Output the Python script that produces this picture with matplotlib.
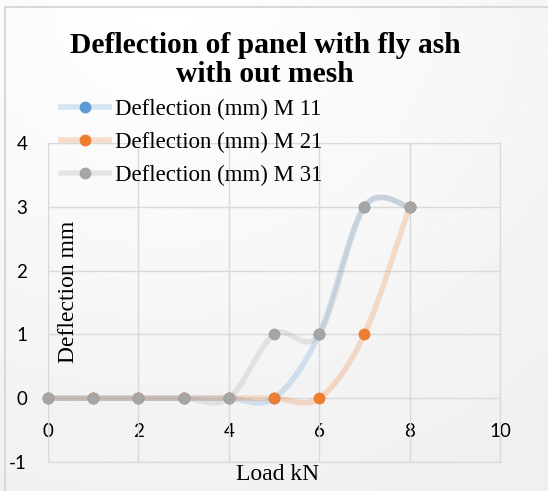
import numpy as np
import matplotlib
matplotlib.use('Agg')
import matplotlib.pyplot as plt
from matplotlib.path import Path
from matplotlib.patches import PathPatch, Rectangle
from matplotlib.lines import Line2D

plt.rcParams['axes.unicode_minus'] = False

# data
load = [0, 1, 2, 3, 4, 5, 6, 7, 8]
m11 = [0, 0, 0, 0, 0, 0, 1, 3, 3]
m21 = [0, 0, 0, 0, 0, 0, 0, 1, 3]
m31 = [0, 0, 0, 0, 0, 1, 1, 3, 3]
names = ['Deflection (mm) M 11', 'Deflection (mm) M 21', 'Deflection (mm) M 31']
colors = ['#5B9BD5', '#ED7D31', '#A5A5A5']
xticks = [0, 2, 4, 6, 8, 10]
yticks = [-1, 0, 1, 2, 3, 4]

W, H = 548, 491
fig = plt.figure(figsize=(W / 100, H / 100), dpi=100)

# background gradient + border
bg = fig.add_axes([0, 0, 1, 1], zorder=-10)
yy, xx = np.mgrid[0:1:200j, 0:1:200j]
r = np.sqrt((xx - 0.3) ** 2 + (yy - 0.0) ** 2)
bg.imshow(1 - 0.06 * np.clip(r / 1.1, 0, 1), cmap='gray', vmin=0, vmax=1,
          extent=[0, 1, 0, 1], aspect='auto', origin='upper')
bg.add_patch(Rectangle((4.5 / W, -0.1), 1.2, 1.1 - 6.5 / H, fill=False,
                       edgecolor='#D9D9D9', lw=1.5))
bg.set_xlim(0, 1)
bg.set_ylim(0, 1)
bg.axis('off')

ax = fig.add_axes([48 / W, 1 - 462 / H, 452 / W, 319 / H])
ax.patch.set_alpha(0)
ax.set_xlim(0, 10)
ax.set_ylim(-1, 4)
ax.set_xticks(xticks)
ax.set_yticks(yticks)
ax.grid(True, color='#D9D9D9', lw=1)
for s in ax.spines.values():
    s.set_color('#D9D9D9')
ax.tick_params(length=0, labelbottom=False, labelsize=13.5, pad=15)
for lab in ax.get_yticklabels():
    lab.set_family('Lato')

sec = ax.secondary_xaxis(0.2)
sec.set_xticks(xticks)
sec.tick_params(length=0, labelsize=13.5, pad=18)
sec.spines['bottom'].set_visible(False)
for lab in sec.get_xticklabels():
    lab.set_family('Lato')


def smooth_path(x, y):
    # Excel style smoothed line (bezier through the points)
    p = np.column_stack([x, y]).astype(float)
    pts = np.vstack([p[0], p, p[-1]])
    verts = [p[0]]
    codes = [Path.MOVETO]
    for i in range(1, len(pts) - 2):
        c1 = pts[i] + (pts[i + 1] - pts[i - 1]) / 6
        c2 = pts[i + 1] - (pts[i + 2] - pts[i]) / 6
        verts += [c1, c2, pts[i + 1]]
        codes += [Path.CURVE4] * 3
    return Path(verts, codes)


handles = []
for ys, c, n in zip([m11, m21, m31], colors, names):
    ax.add_patch(PathPatch(smooth_path(load, ys), fill=False, edgecolor=c,
                           lw=4, alpha=0.24, capstyle='round', zorder=2))
    ax.plot(load, ys, 'o', color=c, ms=7.5, zorder=3, clip_on=False)
    h1 = Line2D([], [], color=c, lw=4, alpha=0.24)
    h2 = Line2D([], [], color=c, marker='o', ms=7.5, lw=0)
    handles.append((h1, h2))

fig.legend(handles, names, loc='upper left', bbox_to_anchor=(61 / W, 1 - 99 / H),
           frameon=False, prop={'family': 'Liberation Serif', 'size': 16.5},
           handlelength=2.1, handletextpad=0.26, labelspacing=0.52,
           borderpad=0, borderaxespad=0)

fig.text(265 / W, 1 - 52.7 / H, 'Deflection of panel with fly ash', ha='center',
         va='baseline', fontsize=21.3, fontweight='bold', family='Liberation Serif')
fig.text(265 / W, 1 - 81.7 / H, 'with out mesh', ha='center',
         va='baseline', fontsize=21.3, fontweight='bold', family='Liberation Serif')

fig.text(68 / W, 1 - 292 / H, 'Deflection mm', rotation=90, ha='center',
         va='center', fontsize=17, family='Liberation Serif')
fig.text(278 / W, 1 - 475 / H, 'Load kN', ha='center', va='center',
         fontsize=17, family='Liberation Serif')

fig.savefig('out.png', dpi=100)
